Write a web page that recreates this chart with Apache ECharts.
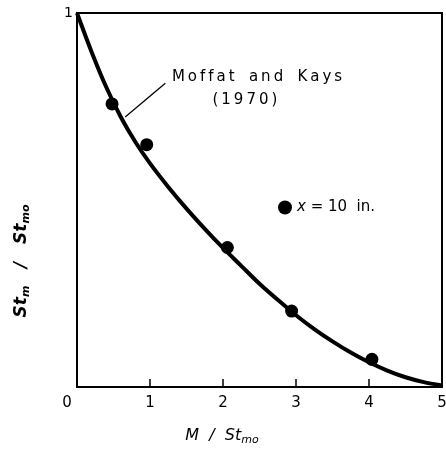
<!DOCTYPE html>
<html><head><meta charset="utf-8">
<script src="https://cdn.jsdelivr.net/npm/echarts@6/dist/echarts.min.js"></script>
<style>html,body{margin:0;padding:0;background:#fff}#c{width:446px;height:453px}</style>
</head><body><div id="c"></div>
<script>
// Moffat and Kays (1970) correlation curve
const curveX = [0, 0.2, 0.4, 0.6, 0.8, 1.0, 1.25, 1.5, 1.75, 2.0, 2.25, 2.5, 2.75, 3.0, 3.25, 3.5, 3.75, 4.0, 4.25, 4.5, 4.75, 5.0];
const curveY = [1.0, 0.896, 0.802, 0.722, 0.655, 0.598, 0.535, 0.477, 0.423, 0.372, 0.324, 0.276, 0.233, 0.192, 0.155, 0.122, 0.092, 0.066, 0.044, 0.026, 0.013, 0.004];
// measured points, x = 10 in.
const ptX = [0.48, 0.955, 2.06, 2.94, 4.04];
const ptY = [0.757, 0.648, 0.373, 0.203, 0.074];
// leader line for annotation
const leadX = [0.66, 1.21];
const leadY = [0.722, 0.812];
const xTicks = [0, 1, 2, 3, 4, 5];

const chart = echarts.init(document.getElementById('c'));
const font = '"DejaVu Sans", sans-serif';
const ts = '\u2009';
const spaced = s => s.split('').join(ts);
chart.setOption({
  animation: false,
  grid: {left: 77, right: 4, top: 13, bottom: 66, show: true, borderColor: '#000', borderWidth: 2,
         backgroundColor: 'transparent', outerBoundsMode: 'none', containLabel: false},
  xAxis: {
    type: 'value', min: 0, max: 5, interval: 1,
    axisLine: {lineStyle: {color: '#000', width: 2}},
    axisTick: {inside: true, length: 8, lineStyle: {color: '#000', width: 1.5}},
    splitLine: {show: false},
    axisLabel: {
      color: '#000', fontFamily: font, fontSize: 15, margin: 9,
      formatter: v => v === 0 ? '{z|0}' : String(xTicks[v]),
      rich: {z: {fontFamily: font, fontSize: 15, color: '#000', padding: [0, 20, 0, 0]}}
    }
  },
  yAxis: {
    type: 'value', min: 0, max: 1, interval: 1,
    axisLine: {lineStyle: {color: '#000', width: 2}},
    axisTick: {show: false},
    splitLine: {show: false},
    axisLabel: {color: '#000', fontFamily: font, fontSize: 14, margin: 4, verticalAlign: 'middle',
      formatter: v => v === 1 ? '1' : ''}
  },
  legend: {
    left: 273, top: 195, itemWidth: 14, itemHeight: 14, icon: 'circle',
    data: ['pts'],
    formatter: () => '{i|x} = 10  in.',
    textStyle: {fontFamily: font, fontSize: 15, color: '#000',
      rich: {i: {fontFamily: font, fontStyle: 'italic', fontSize: 15, color: '#000'}}}
  },
  series: [
    {type: 'line', name: 'curve', data: curveX.map((x, i) => [x, curveY[i]]), smooth: 0.3, showSymbol: false,
     lineStyle: {color: '#000', width: 4}, z: 3},
    {type: 'line', name: 'lead', data: leadX.map((x, i) => [x, leadY[i]]), showSymbol: false,
     lineStyle: {color: '#000', width: 1.3}, z: 2},
    {type: 'scatter', name: 'pts', data: ptX.map((x, i) => [x, ptY[i]]), symbolSize: 13,
     itemStyle: {color: '#000', opacity: 1}, z: 4}
  ]
});

const p1 = chart.convertToPixel({gridIndex: 0}, [1.30, 0.829]);
const p2 = chart.convertToPixel({gridIndex: 0}, [2.30, 0.767]);
chart.setOption({
  graphic: [
    {type: 'text', x: p1[0], y: p1[1], style: {text: spaced('Moffat') + '   ' + spaced('and') + '   ' + spaced('Kays'), font: '15px ' + font, fill: '#000', textAlign: 'left', textVerticalAlign: 'middle'}},
    {type: 'text', x: p2[0], y: p2[1], style: {text: '(' + ts + spaced('1970') + ts + ')', font: '15px ' + font, fill: '#000', textAlign: 'center', textVerticalAlign: 'middle'}},
    {type: 'text', x: 222, y: 436, style: {
      text: '{a|M  /  St}{s|mo}', textAlign: 'center', textVerticalAlign: 'middle',
      rich: {a: {fontFamily: font, fontStyle: 'italic', fontSize: 16, color: '#000'},
             s: {fontFamily: font, fontStyle: 'italic', fontSize: 11, color: '#000', padding: [8, 0, 0, 0]}}}},
    {type: 'text', x: 22, y: 261, rotation: Math.PI / 2, style: {
      text: '{a|St}{s|m}{a|   /   St}{s|mo}', textAlign: 'center', textVerticalAlign: 'middle',
      rich: {a: {fontFamily: font, fontStyle: 'italic', fontWeight: 'bold', fontSize: 17, color: '#000'},
             s: {fontFamily: font, fontStyle: 'italic', fontWeight: 'bold', fontSize: 11, color: '#000', padding: [8, 0, 0, 0]}}}}
  ]
});
</script></body></html>
